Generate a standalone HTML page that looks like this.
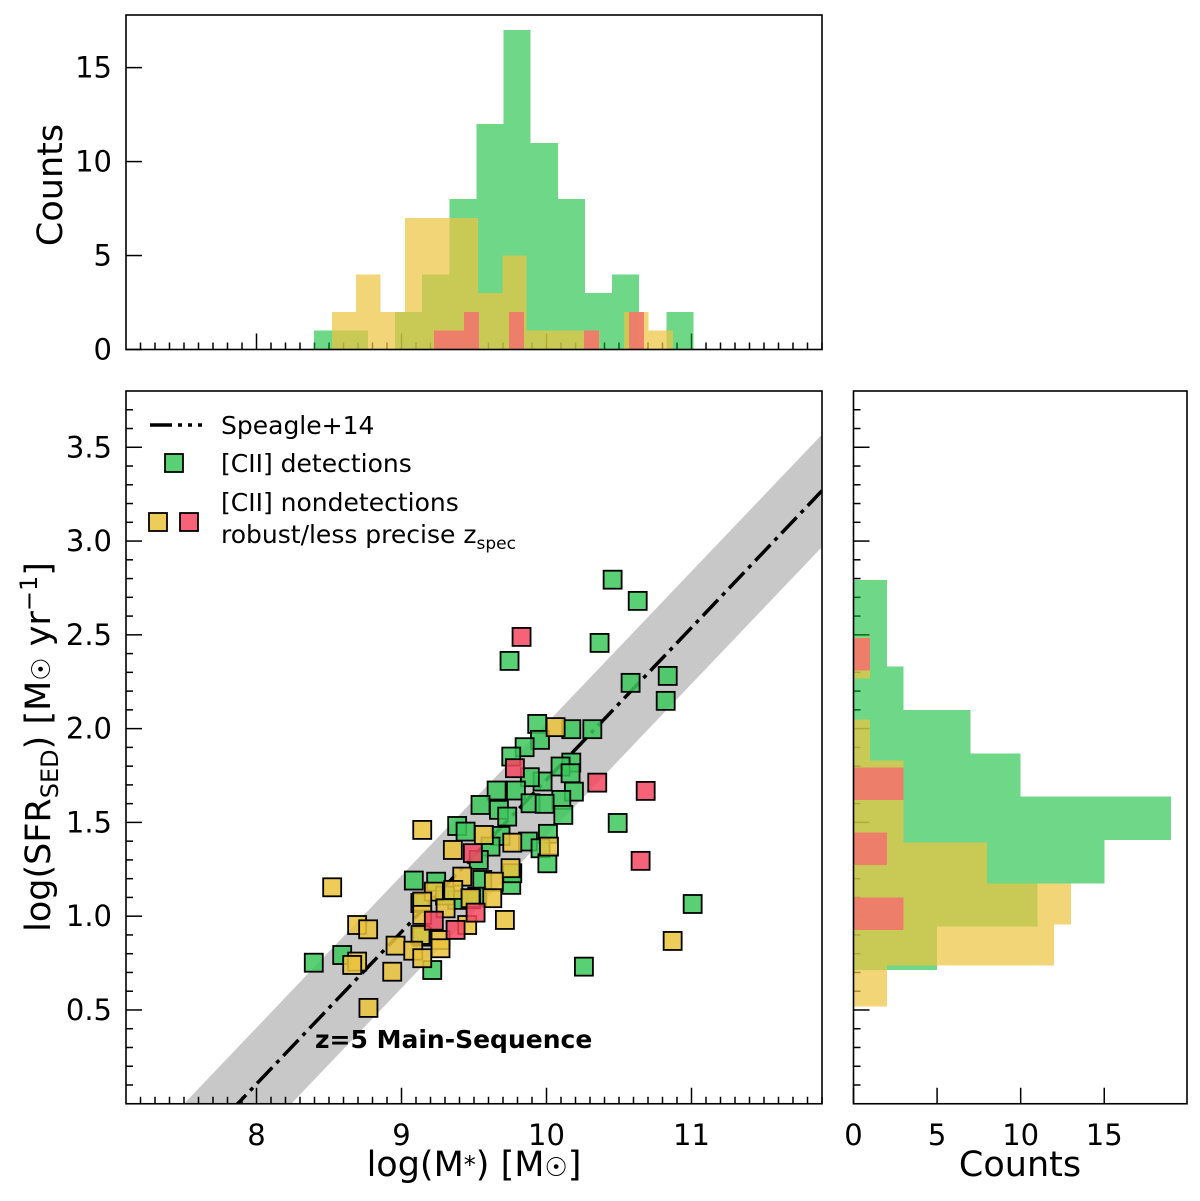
<!DOCTYPE html>
<html><head><meta charset="utf-8"><style>
html,body{margin:0;padding:0;background:#fff;overflow:hidden;}
svg{display:block;font-family:"DejaVu Sans","Liberation Sans",sans-serif;}
</style></head><body>
<svg id="fig" width="1200" height="1201" viewBox="0 0 1200 1201" xmlns="http://www.w3.org/2000/svg">
<g id="main"></g>
<g id="top"></g>
<g id="right"></g>
<g id="labels">
<text x="474" y="1176" font-size="35" text-anchor="middle">log(M<tspan font-size="24" dy="-3">*</tspan><tspan dy="3">) [M</tspan><tspan font-size="26">☉</tspan>]</text>
<text transform="translate(50,747) rotate(-90)" font-size="35" text-anchor="middle">log(SFR<tspan font-size="24" dy="8">SED</tspan><tspan dy="-8">) [M</tspan><tspan font-size="26">☉</tspan> yr<tspan font-size="24" dy="-13">−1</tspan><tspan dy="13">]</tspan></text>
<text transform="translate(62,185) rotate(-90)" font-size="35" text-anchor="middle">Counts</text>
<text x="1020" y="1176" font-size="35" text-anchor="middle">Counts</text>
<text x="315" y="1048" font-size="25" font-weight="bold">z=5 Main-Sequence</text>
</g>
<g id="legend">
<line x1="150" y1="425" x2="202" y2="425" stroke="#000" stroke-width="3.5" stroke-dasharray="22,6,4,6,4,6"/>
<text x="221" y="434" font-size="25">Speagle+14</text>
<rect x="165" y="454" width="18" height="18" fill="#3cc85a" fill-opacity="0.85" stroke="#000" stroke-width="1.8"/>
<text x="221" y="472" font-size="25">[CII] detections</text>
<rect x="149" y="513" width="18" height="18" fill="#ebc33c" fill-opacity="0.85" stroke="#000" stroke-width="1.8"/>
<rect x="180" y="513" width="18" height="18" fill="#f5465f" fill-opacity="0.85" stroke="#000" stroke-width="1.8"/>
<text x="221" y="511" font-size="25">[CII] nondetections</text>
<text x="221" y="543" font-size="25">robust/less precise z<tspan font-size="17" dy="6">spec</tspan></text>
</g>
</svg>
<script>
// ---- scatter data ----
const greenX=[9.936,10.171,10.316,9.955,9.849,9.757,10.171,10.097,10.166,9.973,9.885,10.189,10.102,9.656,9.789,9.545,9.672,9.729,9.890,9.987,10.116,9.384,9.442,9.683,9.872,10.010,9.959,10.006,9.614,9.533,9.085,9.239,9.557,9.757,9.764,9.384,9.522,8.591,8.395,9.212,10.258,9.143,10.456,10.366,10.629,9.745,10.836,10.822,10.580,10.491,11.008,9.13,9.30,9.48];
const greenY=[2.025,1.997,1.997,1.940,1.901,1.851,1.819,1.798,1.762,1.718,1.741,1.664,1.620,1.670,1.670,1.593,1.567,1.531,1.602,1.599,1.540,1.481,1.451,1.428,1.398,1.439,1.362,1.282,1.371,1.300,1.190,1.184,1.193,1.167,1.229,1.087,1.104,0.793,0.752,0.713,0.731,0.891,2.794,2.457,2.681,2.361,2.281,2.148,2.244,1.497,1.065,1.07,1.11,1.09];
const yellowX=[10.063,9.143,9.568,9.354,9.764,10.017,8.522,9.752,9.419,9.637,9.223,9.357,9.476,9.626,9.143,9.304,9.143,8.694,8.770,9.713,9.453,9.269,9.131,8.959,9.081,9.269,9.143,8.694,8.660,8.936,8.772,10.870];
const yellowY=[2.008,1.460,1.433,1.353,1.392,1.371,1.154,1.256,1.211,1.184,1.131,1.140,1.096,1.096,1.078,1.042,1.007,0.953,0.930,0.980,0.953,0.873,0.900,0.843,0.816,0.829,0.776,0.758,0.740,0.704,0.511,0.868];
const redX=[9.782,10.350,9.492,9.511,9.223,9.373,9.828,10.684,10.649];
const redY=[1.789,1.712,1.336,1.019,0.976,0.927,2.489,1.668,1.295];
// ---- main-sequence ----
const msSlope=0.811, msZero=7.87, msBand=0.3;
// ---- top histogram (mass) ----
const gMassStart=8.395, gMassWidth=0.187;
const gMassCounts=[1,1,0,2,4,8,12,17,11,8,3,4,0,2];
const yMassStart=8.519, yMassWidth=0.168;
const yMassCounts=[2,4,2,7,7,7,3,5,1,1,1,0,2,1];
const rMassStart=9.223, rMassWidth=0.1035;
const rMassCounts=[1,1,2,0,0,2,0,0,0,0,1,0,0,2];
// ---- right histogram (SFR), bins from bottom ----
const gSfrStart=0.713, gSfrWidth=0.231;
const gSfrCounts=[5,11,15,19,10,7,3,2,2];
const ySfrStart=0.518, ySfrWidth=0.2185;
const ySfrCounts=[2,12,13,8,3,3,1,0,1];
const rSfrStart=0.927, rSfrWidth=0.173;
const rSfrCounts=[3,0,2,0,3,0,0,0,1];
// ---- tick labels ----
const xTickVals=[8,9,10,11];
const yTickVals=[0.5,1.0,1.5,2.0,2.5,3.0,3.5];
const topCountTicks=[0,5,10,15];
const rightCountTicks=[0,5,10,15];

const NS="http://www.w3.org/2000/svg";
const M={l:126,r:822,t:391,b:1103.75};
const T={t:15,b:349.5};
const R={l:853.5,r:1187};
const xmin=7.1,xmax=11.9,ymin=0,ymax=3.8,topMax=17.8,rightMax=19.95;
const TF=29;
const sx=v=>M.l+(v-xmin)/(xmax-xmin)*(M.r-M.l);
const sy=v=>M.b-(v-ymin)/(ymax-ymin)*(M.b-M.t);
const ty=v=>T.b-v/topMax*(T.b-T.t);
const rx=v=>R.l+v/rightMax*(R.r-R.l);
function el(tag,attrs,parent){const e=document.createElementNS(NS,tag);for(const k in attrs)e.setAttribute(k,attrs[k]);parent.appendChild(e);return e;}
const main=document.getElementById('main'),top_=document.getElementById('top'),right=document.getElementById('right');

const defs=el('defs',{},main);
const cp=el('clipPath',{id:'mclip'},defs);
el('rect',{x:M.l,y:M.t,width:M.r-M.l,height:M.b-M.t},cp);
const clipG=el('g',{'clip-path':'url(#mclip)'},main);
const bx0=xmin,bx1=xmax;
const band=el('polygon',{points:[[sx(bx0),sy(msSlope*(bx0-msZero)+msBand)],[sx(bx1),sy(msSlope*(bx1-msZero)+msBand)],[sx(bx1),sy(msSlope*(bx1-msZero)-msBand)],[sx(bx0),sy(msSlope*(bx0-msZero)-msBand)]].map(p=>p.join(',')).join(' '),fill:'#c8c8c8'},clipG);


const msl=el('line',{x1:sx(bx0),y1:sy(msSlope*(bx0-msZero)),x2:sx(bx1),y2:sy(msSlope*(bx1-msZero)),stroke:'#000','stroke-width':3.5,'stroke-dasharray':'22,6,4,6'},clipG);


function markers(xs,ys,fill,name){
  for(let i=0;i<xs.length;i++){
    const r=el('rect',{x:sx(xs[i])-9,y:sy(ys[i])-9,width:18,height:18,fill:fill,'fill-opacity':0.85,stroke:'#000','stroke-width':1.8},clipG);
    
    
  }
}
markers(greenX,greenY,'#3cc85a','detection-point');
markers(yellowX,yellowY,'#ebc33c','robust-nondetection-point');
markers(redX,redY,'#f5465f','less-precise-nondetection-point');

function frame(x1,y1,x2,y2,parent,name){const f=el('rect',{x:x1,y:y1,width:x2-x1,height:y2-y1,fill:'none',stroke:'#000','stroke-width':1.6},parent);}
function tick(parent,x1,y1,x2,y2){el('line',{x1,y1,x2,y2,stroke:'#000','stroke-width':1.5},parent);}
for(let k=72;k<=119;k++){const v=k/10;const px=sx(v);const maj=(k%10===0);
  tick(main,px,M.b,px,M.b-(maj?16:7));
  tick(top_,px,T.b,px,T.b-(maj?16:7));}
for(let k=1;k<=37;k++){const v=k/10;const py=sy(v);const maj=(k%5===0);
  tick(main,M.l,py,M.l+(maj?16:7),py);
  tick(right,R.l,py,R.l+(maj?16:7),py);}
xTickVals.forEach(v=>{const t=el('text',{x:sx(v),y:1145,'font-size':TF,'text-anchor':'middle'},main);t.textContent=String(v);});
yTickVals.forEach(v=>{const t=el('text',{x:112,y:sy(v)+10,'font-size':TF,'text-anchor':'end'},main);t.textContent=v.toFixed(1);});
frame(M.l,M.t,M.r,M.b,main,'main-axes-frame');

function vbars(start,w,counts,fill,op,name){counts.forEach((c,i)=>{if(c<=0)return;const x0=sx(start+i*w),x1=sx(start+(i+1)*w);
  const r=el('rect',{x:x0,y:ty(c),width:x1-x0,height:T.b-ty(c),fill:fill,'fill-opacity':op,'shape-rendering':'crispEdges'},top_);
  
  });}
vbars(gMassStart,gMassWidth,gMassCounts,'#00b82d',0.57,'mass-hist-bar-detections');
vbars(yMassStart,yMassWidth,yMassCounts,'#edc541',0.72,'mass-hist-bar-robust');
vbars(rMassStart,rMassWidth,rMassCounts,'#ef7a6c',0.95,'mass-hist-bar-less-precise');
topCountTicks.forEach(v=>{tick(top_,M.l,ty(v),M.l+16,ty(v));const t=el('text',{x:112,y:ty(v)+10,'font-size':TF,'text-anchor':'end'},top_);t.textContent=String(v);});
frame(M.l,T.t,M.r,T.b,top_,'top-hist-frame');

function hbars(start,w,counts,fill,op,name){counts.forEach((c,i)=>{if(c<=0)return;const y0=sy(start+(i+1)*w),y1=sy(start+i*w);
  const r=el('rect',{x:R.l,y:y0,width:rx(c)-R.l,height:y1-y0,fill:fill,'fill-opacity':op,'shape-rendering':'crispEdges'},right);
  
  });}
hbars(gSfrStart,gSfrWidth,gSfrCounts,'#00b82d',0.57,'sfr-hist-bar-detections');
hbars(ySfrStart,ySfrWidth,ySfrCounts,'#edc541',0.72,'sfr-hist-bar-robust');
hbars(rSfrStart,rSfrWidth,rSfrCounts,'#ef7a6c',0.95,'sfr-hist-bar-less-precise');
rightCountTicks.forEach(v=>{tick(right,rx(v),M.b,rx(v),M.b-16);const t=el('text',{x:rx(v),y:1145,'font-size':TF,'text-anchor':'middle'},right);t.textContent=String(v);});
frame(R.l,M.t,R.r,M.b,right,'right-hist-frame');
</script>
</body></html>
